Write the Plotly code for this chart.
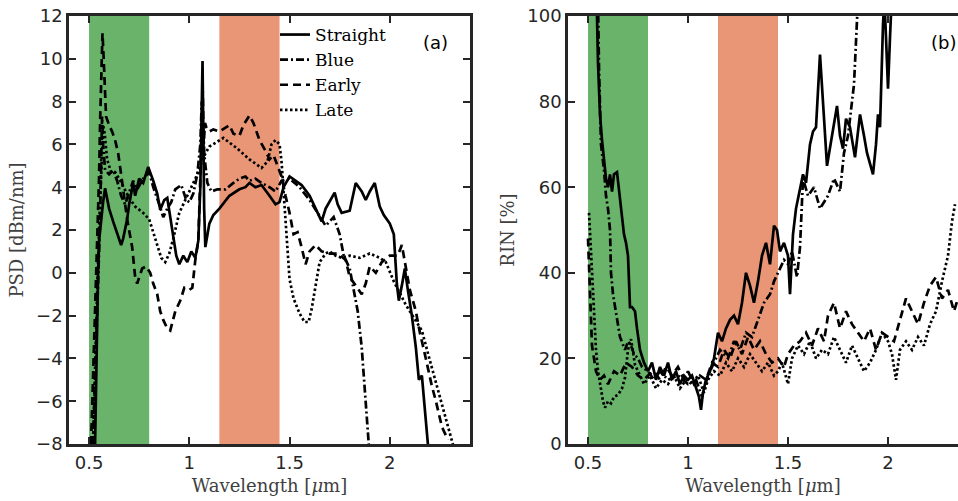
import plotly.graph_objects as go

# ---------------- data: power spectral density (panel a) ----------------
psd_straight_wl = [0.53, 0.535, 0.54, 0.545, 0.55, 0.56, 0.57, 0.58, 0.59, 0.60, 0.62, 0.64, 0.66, 0.67,
                   0.69, 0.70, 0.72, 0.73, 0.75, 0.77, 0.795, 0.82, 0.84, 0.855, 0.875, 0.89, 0.905, 0.92,
                   0.935, 0.95, 0.97, 0.99, 1.01, 1.03, 1.045, 1.055, 1.062, 1.066, 1.07, 1.074, 1.08, 1.09,
                   1.10, 1.12, 1.15, 1.20, 1.25, 1.28, 1.30, 1.33, 1.36, 1.40, 1.43, 1.45, 1.47, 1.50,
                   1.53, 1.56, 1.60, 1.63, 1.66, 1.68, 1.71, 1.725, 1.74, 1.76, 1.80, 1.83, 1.86, 1.88,
                   1.90, 1.925, 1.95, 1.97, 2.00, 2.02, 2.035, 2.045, 2.06, 2.075, 2.09, 2.11, 2.13, 2.145,
                   2.16, 2.175, 2.19]
psd_straight = [-8.0, -5.0, -2.0, 0.0, 1.5, 2.5, 3.3, 3.95, 3.4, 3.0, 2.4, 1.8, 1.3, 1.6,
                2.5, 3.2, 4.2, 3.6, 4.4, 4.2, 4.95, 4.3, 3.7, 2.95, 3.4, 3.5, 2.6, 1.8,
                0.8, 0.4, 0.8, 0.5, 1.0, 0.7, 1.5, 4.0, 7.0, 9.9, 6.5, 3.0, 1.2, 1.8,
                2.3, 2.7, 3.0, 3.6, 3.9, 4.0, 4.2, 4.0, 4.1, 3.6, 3.2, 3.3, 4.0, 4.5,
                4.3, 4.1, 3.6, 3.0, 2.4, 3.0, 3.5, 3.75, 3.2, 2.8, 2.9, 4.2, 3.8, 3.4,
                3.8, 4.2, 3.1, 2.7, 2.3, 1.8, -0.5, -1.3, -0.6, 0.2, -0.8, -2.0, -3.5, -5.0,
                -4.8, -6.5, -8.0]

psd_blue_wl = [0.52, 0.53, 0.54, 0.55, 0.555, 0.56, 0.565, 0.57, 0.58, 0.60, 0.62, 0.64, 0.66, 0.68,
               0.70, 0.72, 0.74, 0.77, 0.80, 0.82, 0.85, 0.87, 0.89, 0.91, 0.93, 0.96, 0.985, 1.00,
               1.02, 1.04, 1.055, 1.062, 1.068, 1.075, 1.09, 1.11, 1.14, 1.18, 1.22, 1.25, 1.28, 1.30,
               1.33, 1.36, 1.40, 1.43, 1.46, 1.50, 1.55, 1.60, 1.64, 1.68, 1.72, 1.75, 1.77, 1.80,
               1.82, 1.84, 1.86, 1.88, 1.895]
psd_blue = [-8.0, -5.0, -2.0, 0.5, 2.5, 5.0, 7.3, 6.0, 4.8, 4.6, 4.8, 4.3, 3.6, 3.2,
            3.8, 4.3, 3.9, 4.4, 4.7, 4.0, 3.2, 2.6, 3.0, 3.3, 3.9, 4.1, 3.4, 3.3,
            3.7, 4.6, 6.0, 8.0, 7.0, 5.5, 4.2, 3.8, 3.9, 3.9, 4.2, 4.4, 4.5, 4.3,
            4.4, 4.2, 4.0, 3.8, 4.3, 4.4, 4.0, 3.4, 2.8, 2.2, 2.6, 1.8, 0.8, 0.2,
            -0.8, -1.8, -3.5, -6.0, -8.0]

psd_early_wl = [0.51, 0.52, 0.53, 0.54, 0.55, 0.555, 0.56, 0.567, 0.572, 0.578, 0.585, 0.60, 0.615, 0.63,
                0.645, 0.66, 0.675, 0.69, 0.715, 0.73, 0.74, 0.765, 0.785, 0.805, 0.82, 0.84, 0.855, 0.87,
                0.89, 0.905, 0.93, 0.955, 0.975, 1.00, 1.015, 1.03, 1.045, 1.055, 1.062, 1.067, 1.072, 1.078,
                1.085, 1.10, 1.12, 1.15, 1.18, 1.20, 1.22, 1.25, 1.27, 1.30, 1.32, 1.35, 1.38, 1.40,
                1.42, 1.44, 1.46, 1.48, 1.50, 1.52, 1.54, 1.56, 1.58, 1.60, 1.63, 1.66, 1.70, 1.74,
                1.78, 1.80, 1.83, 1.86, 1.88, 1.90, 1.93, 1.96, 2.00, 2.04, 2.06, 2.08, 2.10, 2.13,
                2.15, 2.17, 2.19, 2.21, 2.23, 2.26, 2.29]
psd_early = [-8.0, -5.0, -2.0, 1.0, 4.5, 7.0, 9.5, 11.2, 10.2, 8.5, 7.3, 6.9, 6.6, 6.2,
             5.6, 4.6, 3.6, 2.5, 1.2, -0.2, -0.5, 0.2, 0.3, 0.0, -0.5, -1.0, -1.8, -2.2,
             -2.6, -2.7, -1.8, -1.3, -0.7, -0.8, -0.7, 0.6, 1.5, 4.0, 6.5, 8.5, 6.0, 7.0,
             6.8, 6.6, 6.7, 6.6, 6.8, 6.9, 6.5, 6.4, 6.9, 7.35, 7.0, 6.2, 5.7, 5.3,
             5.5, 5.0, 4.5, 3.6, 2.8, 1.8, 1.9, 1.2, 0.4, 1.0, 1.3, 1.0, 0.9, 0.9,
             0.6, -0.2, -0.6, -1.0, -0.5, 0.3, 0.0, 0.5, 0.8, 0.8, 1.3, 0.3, -0.8, -1.8,
             -2.8, -3.6, -4.5, -5.3, -6.0, -7.2, -7.8]

psd_late_wl = [0.52, 0.53, 0.54, 0.55, 0.56, 0.57, 0.578, 0.59, 0.61, 0.63, 0.65, 0.68, 0.70, 0.73,
               0.77, 0.80, 0.82, 0.84, 0.86, 0.88, 0.90, 0.92, 0.95, 0.99, 1.04, 1.07, 1.10, 1.17,
               1.24, 1.30, 1.36, 1.39, 1.41, 1.43, 1.45, 1.46, 1.47, 1.48, 1.49, 1.50, 1.52, 1.55,
               1.575, 1.595, 1.61, 1.63, 1.65, 1.68, 1.70, 1.73, 1.76, 1.80, 1.85, 1.90, 1.95, 1.98,
               2.02, 2.08, 2.16, 2.20, 2.25, 2.31, 2.32]
psd_late = [-8.0, -4.0, -1.0, 2.0, 5.0, 6.9, 6.5, 5.3, 4.7, 4.7, 4.4, 3.9, 3.5, 3.1,
            2.8, 2.5, 1.9, 1.2, 0.7, 0.5, 0.9, 1.6, 2.8, 3.6, 4.6, 5.4, 5.9, 6.3,
            5.8, 5.3, 4.9, 5.2, 6.0, 6.2, 6.0, 5.2, 3.8, 2.2, 0.8, -0.3, -1.2, -1.9,
            -2.3, -2.3, -1.7, -0.5, 0.5, 0.9, 1.0, 0.8, 0.7, 0.8, 0.7, 0.9, 0.7, 0.5,
            -0.4, -1.5, -2.7, -4.1, -5.8, -7.9, -8.2]

# ---------------- data: relative intensity noise (panel b) ----------------
rin_straight_wl = [0.54, 0.545, 0.55, 0.56, 0.57, 0.58, 0.59, 0.60, 0.61, 0.62, 0.63, 0.645, 0.66, 0.67,
                   0.68, 0.69, 0.70, 0.705, 0.71, 0.72, 0.735, 0.745, 0.76, 0.78, 0.80, 0.82, 0.84, 0.86,
                   0.88, 0.90, 0.92, 0.94, 0.96, 0.98, 1.00, 1.02, 1.04, 1.055, 1.065, 1.075, 1.09, 1.11,
                   1.13, 1.15, 1.17, 1.19, 1.21, 1.23, 1.25, 1.27, 1.29, 1.31, 1.33, 1.35, 1.37, 1.39,
                   1.41, 1.43, 1.445, 1.46, 1.48, 1.50, 1.51, 1.525, 1.54, 1.56, 1.575, 1.59, 1.61, 1.625,
                   1.64, 1.66, 1.675, 1.695, 1.72, 1.745, 1.76, 1.775, 1.79, 1.81, 1.835, 1.86, 1.88, 1.895,
                   1.925, 1.94, 1.95, 1.96, 1.975, 1.982, 1.99, 2.00, 2.01, 2.02]
rin_straight = [104, 100, 89, 77, 71, 66, 62, 60, 63, 59, 63, 63.5, 57, 52,
                49, 47, 44, 38, 32, 32, 31, 27, 22, 19, 17, 19, 15, 18,
                16, 19, 15, 17, 14, 16, 15, 16, 13, 11, 8, 12, 15, 17,
                20, 26, 24, 27, 29, 30, 28, 33, 40, 37, 33, 38, 44, 47,
                42, 51, 50, 45, 47, 44, 35, 49, 55, 60, 63, 61, 70, 73,
                74, 91, 80, 65, 72, 79, 72, 69, 76, 74, 67, 77, 72, 68,
                63, 70, 77, 74, 98, 104, 95, 83, 95, 106]

rin_blue_wl = [0.55, 0.555, 0.565, 0.58, 0.59, 0.60, 0.61, 0.615, 0.625, 0.635, 0.65, 0.66, 0.685, 0.70,
               0.715, 0.73, 0.75, 0.77, 0.80, 0.83, 0.86, 0.90, 0.95, 1.00, 1.04, 1.07, 1.10, 1.13,
               1.16, 1.20, 1.23, 1.26, 1.29, 1.32, 1.35, 1.38, 1.41, 1.43, 1.45, 1.48, 1.50, 1.52,
               1.545, 1.56, 1.575, 1.60, 1.63, 1.66, 1.70, 1.73, 1.76, 1.78, 1.80, 1.83, 1.85]
rin_blue = [104, 88, 70, 64, 58, 55, 50, 40, 35, 32, 28, 25, 22, 24,
            23, 21, 20, 18, 17, 15, 17, 15, 16, 14, 15, 11, 16, 19,
            22, 20, 24, 22, 26, 25, 29, 33, 35, 38, 40, 43, 42, 45,
            39, 46, 62, 58, 60, 55, 58, 62, 59, 68, 72, 84, 104]

rin_early_wl = [0.50, 0.505, 0.51, 0.515, 0.52, 0.53, 0.54, 0.56, 0.58, 0.60, 0.63, 0.66, 0.69, 0.72,
                0.75, 0.78, 0.80, 0.83, 0.86, 0.89, 0.92, 0.95, 0.98, 1.00, 1.03, 1.06, 1.09, 1.12,
                1.15, 1.18, 1.21, 1.24, 1.27, 1.30, 1.33, 1.36, 1.39, 1.42, 1.45, 1.48, 1.50, 1.53,
                1.56, 1.59, 1.62, 1.65, 1.68, 1.70, 1.73, 1.76, 1.79, 1.82, 1.85, 1.88, 1.91, 1.94,
                1.97, 2.00, 2.03, 2.06, 2.09, 2.12, 2.15, 2.18, 2.21, 2.24, 2.27, 2.30, 2.33, 2.35]
rin_early = [48, 42, 35, 28, 23, 20, 17, 15, 16, 14, 17, 16, 19, 18,
             16, 15, 16, 17, 15, 18, 16, 18, 15, 17, 14, 16, 15, 19,
             18, 22, 20, 24, 21, 25, 22, 24, 21, 19, 20, 18, 21, 23,
             24, 26, 23, 27, 24, 30, 33, 27, 31, 28, 26, 24, 27, 22,
             26, 25, 24, 29, 34, 31, 28, 33, 37, 39, 34, 36, 31, 34]

rin_late_wl = [0.505, 0.515, 0.525, 0.54, 0.55, 0.56, 0.575, 0.585, 0.60, 0.615, 0.63, 0.65, 0.67, 0.685,
               0.70, 0.715, 0.735, 0.75, 0.78, 0.81, 0.84, 0.87, 0.90, 0.93, 0.96, 0.99, 1.02, 1.05,
               1.08, 1.10, 1.13, 1.16, 1.19, 1.22, 1.25, 1.28, 1.31, 1.34, 1.37, 1.40, 1.43, 1.45,
               1.47, 1.50, 1.52, 1.55, 1.58, 1.61, 1.64, 1.67, 1.70, 1.73, 1.76, 1.79, 1.82, 1.85,
               1.88, 1.91, 1.94, 1.97, 2.00, 2.02, 2.04, 2.06, 2.09, 2.12, 2.15, 2.18, 2.21, 2.24,
               2.27, 2.30, 2.32, 2.335]
rin_late = [54, 45, 38, 22, 17, 14, 10, 8.5, 10, 9.5, 11, 11.5, 13, 15.5,
            22, 24.5, 18.5, 17, 14, 16, 13, 15, 14, 16, 13, 15, 14, 16,
            12, 15, 17, 16, 19, 17, 20, 18, 21, 19, 17, 19, 16, 17,
            19, 14, 20, 23, 21, 24, 20, 22, 21, 25, 22, 19, 23, 20,
            17, 19, 22, 26, 24, 21, 15, 22, 24, 22, 25, 23, 28, 31,
            38, 44, 52, 56]

# ---------------- labels and axis settings ----------------
series_names = ["Straight", "Blue", "Early", "Late"]
x_tickvals = [0.5, 1, 1.5, 2]
x_ticktext = ["0.5", "1", "1.5", "2"]
visible_band = (0.5, 0.8)
telecom_band = (1.15, 1.45)

W, H = 958, 501
INK = "#262626"
SERIF = "DejaVu Serif"
SANS = "DejaVu Sans"
dash_styles = {
    "Straight": "solid",
    "Blue": "8px,3px,2px,3px",
    "Early": "8px,5px",
    "Late": "2.5px,2.5px",
}

fig = go.Figure()

panel_a = [(psd_straight_wl, psd_straight), (psd_blue_wl, psd_blue),
           (psd_early_wl, psd_early), (psd_late_wl, psd_late)]
panel_b = [(rin_straight_wl, rin_straight), (rin_blue_wl, rin_blue),
           (rin_early_wl, rin_early), (rin_late_wl, rin_late)]

for name, (wl, val) in zip(series_names, panel_a):
    fig.add_trace(go.Scatter(x=wl, y=val, mode="lines", name=name, xaxis="x", yaxis="y",
                             line=dict(color="black", width=2.7, dash=dash_styles[name]),
                             showlegend=True))
for name, (wl, val) in zip(series_names, panel_b):
    fig.add_trace(go.Scatter(x=wl, y=val, mode="lines", name=name, xaxis="x2", yaxis="y2",
                             line=dict(color="black", width=2.7, dash=dash_styles[name]),
                             showlegend=False))

# shaded spectral bands in both panels
for xr, yr in (("x", "y domain"), ("x2", "y2 domain")):
    fig.add_shape(type="rect", xref=xr, yref=yr, x0=visible_band[0], x1=visible_band[1], y0=0, y1=1,
                  fillcolor="#69B36B", line=dict(width=0), layer="below")
    fig.add_shape(type="rect", xref=xr, yref=yr, x0=telecom_band[0], x1=telecom_band[1], y0=0, y1=1,
                  fillcolor="#E89676", line=dict(width=0), layer="below")

y_dom = [1 - 444 / H, 1 - 16 / H]
common_axis = dict(showline=True, linecolor=INK, linewidth=2.5, ticks="inside", ticklen=7,
                   tickwidth=2, tickcolor=INK, showgrid=False, zeroline=False, automargin=False,
                   tickfont=dict(family=SANS, size=18, color=INK))
title_font = dict(family=SERIF, size=18, color="#404040")

fig.update_layout(
    width=W, height=H,
    margin=dict(l=0, r=0, t=0, b=0, autoexpand=False),
    paper_bgcolor="white", plot_bgcolor="white",
    xaxis=dict(domain=[69 / W, 470 / W], range=[0.4, 2.4], anchor="y", mirror="ticks",
               tickvals=x_tickvals, ticktext=x_ticktext, ticklabelstandoff=1,
               title=dict(text="Wavelength [<i>μ</i>m]", font=title_font, standoff=8),
               **common_axis),
    yaxis=dict(domain=y_dom, range=[-8, 12], anchor="x", mirror="ticks", dtick=2,
               title=dict(text="PSD [dBm/nm]", font=title_font, standoff=8),
               **common_axis),
    xaxis2=dict(domain=[568 / W, 1.0], range=[0.4, 2.35], anchor="y2", mirror="ticks",
                tickvals=x_tickvals, ticktext=x_ticktext, ticklabelstandoff=1,
                title=dict(text="Wavelength [<i>μ</i>m]", font=title_font, standoff=8),
                **common_axis),
    yaxis2=dict(domain=y_dom, range=[0, 100], anchor="x2", mirror=False, dtick=20,
                title=dict(text="RIN [%]", font=title_font, standoff=8),
                **common_axis),
    legend=dict(x=275 / W, y=1 - 17 / H, xanchor="left", yanchor="top",
                bgcolor="rgba(0,0,0,0)", borderwidth=0, itemwidth=30, tracegroupgap=0,
                font=dict(family=SERIF, size=17, color="black")),
    annotations=[
        dict(text="(a)", xref="paper", yref="paper", x=435 / W, y=1 - 42 / H,
             xanchor="center", yanchor="middle", showarrow=False,
             font=dict(family=SANS, size=18, color="black")),
        dict(text="(b)", xref="paper", yref="paper", x=943 / W, y=1 - 42 / H,
             xanchor="center", yanchor="middle", showarrow=False,
             font=dict(family=SANS, size=18, color="black")),
    ],
)

fig.write_html("out.html")
